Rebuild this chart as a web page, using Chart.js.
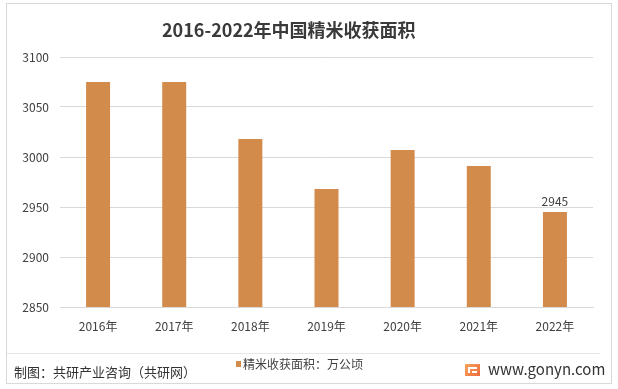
<!DOCTYPE html>
<html lang="zh">
  <head>
    <meta charset="UTF-8"/>
    <title>2016-2022年中国精米收获面积</title>
    <style>
      html, body { margin: 0; padding: 0; background: #fff; }
      #wrap { width: 618px; height: 389px; }
    </style>
  </head>
  <body>
  <div id="wrap">
    <canvas id="myChart" width="618" height="389"></canvas>
  </div>
  <script src="https://cdn.jsdelivr.net/npm/chart.js"></script>
  <script>
    const years = ['2016年', '2017年', '2018年', '2019年', '2020年', '2021年', '2022年'];
    const area = [3075, 3075, 3018, 2968, 3007, 2991, 2945];
    const labelled = [false, false, false, false, false, false, true];
    const yMin = 2850, yMax = 3100, yStep = 50;
    const titleText = '2016-2022年中国精米收获面积';
    const seriesName = '精米收获面积：万公顷';
    const sourceText = '制图：共研产业咨询（共研网）';
    const siteText = 'www.gonyn.com';

    const FONT = '"Noto Sans CJK SC", "Noto Sans", sans-serif';
    const barColor = '#D38B4C';

    // frame, title, footer and the value label
    const decor = {
      id: 'decor',
      beforeDraw(chart) {
        const ctx = chart.ctx;
        ctx.save();
        ctx.strokeStyle = '#d9d9d9';
        ctx.lineWidth = 1;
        ctx.strokeRect(6.5, 3.5, 605, 380);
        ctx.beginPath();
        ctx.moveTo(7, 353.5);
        ctx.lineTo(600, 353.5);
        ctx.strokeStyle = '#e6e6e6';
        ctx.stroke();
        ctx.restore();
      },
      afterDraw(chart) {
        const ctx = chart.ctx;
        ctx.save();
        ctx.fillStyle = '#3a3a3a';
        ctx.font = 'bold 18px ' + FONT;
        ctx.textAlign = 'left';
        ctx.textBaseline = 'middle';
        ctx.fillText(titleText, 162, 30);

        // value label
        const meta = chart.getDatasetMeta(0);
        ctx.fillStyle = '#404040';
        ctx.font = '12px ' + FONT;
        ctx.textAlign = 'center';
        ctx.textBaseline = 'bottom';
        meta.data.forEach((bar, i) => {
          if (labelled[i]) ctx.fillText(String(area[i]), bar.x, bar.y - 5);
        });

        // footer
        ctx.fillStyle = '#333';
        ctx.font = '13px ' + FONT;
        ctx.textAlign = 'left';
        ctx.textBaseline = 'middle';
        ctx.fillText(sourceText, 14, 372);

        // legend
        ctx.fillStyle = barColor;
        ctx.fillRect(236, 361, 5, 6);
        ctx.fillStyle = '#404040';
        ctx.font = '12px ' + FONT;
        ctx.fillText(seriesName, 243, 364);

        // logo
        const g = ctx.createLinearGradient(465, 365, 480, 376);
        g.addColorStop(0, '#f7a35c');
        g.addColorStop(1, '#f06a3c');
        ctx.fillStyle = g;
        ctx.fillRect(465, 364, 15, 12);
        ctx.fillStyle = '#fff';
        ctx.fillRect(468, 367, 9, 2);
        ctx.fillRect(468, 367, 2, 6);
        ctx.fillRect(472, 371, 5, 2);

        ctx.fillStyle = '#333';
        ctx.font = '15px ' + FONT;
        ctx.fillText(siteText, 488, 369);
        ctx.restore();
      }
    };

    const data = {
      labels: years,
      datasets: [{
        label: seriesName,
        data: area,
        backgroundColor: barColor,
        borderWidth: 0,
        categoryPercentage: 1,
        barPercentage: 0.315
      }]
    };

    const config = {
      type: 'bar',
      data,
      options: {
        responsive: false,
        animation: false,
        layout: { padding: { top: 57, right: 25, left: 0, bottom: 0 } },
        plugins: {
          legend: { display: false },
          title: { display: false },
          tooltip: { enabled: false }
        },
        scales: {
          x: {
            grid: { display: false, drawTicks: false },
            border: { color: '#d9d9d9' },
            ticks: { color: '#404040', font: { family: FONT, size: 12 }, padding: 12, maxRotation: 0 },
            afterFit(scale) { scale.height = 82; }
          },
          y: {
            min: yMin,
            max: yMax,
            grid: { color: '#d9d9d9', drawTicks: false },
            border: { display: false },
            ticks: {
              stepSize: yStep,
              color: '#404040',
              font: { family: FONT, size: 12 },
              padding: 11,
              callback: (v) => String(v)
            },
            afterFit(scale) { scale.width = 60; }
          }
        }
      },
      plugins: [decor]
    };

    var myChart = new Chart(document.getElementById('myChart'), config);
  </script>
  </body>
</html>
